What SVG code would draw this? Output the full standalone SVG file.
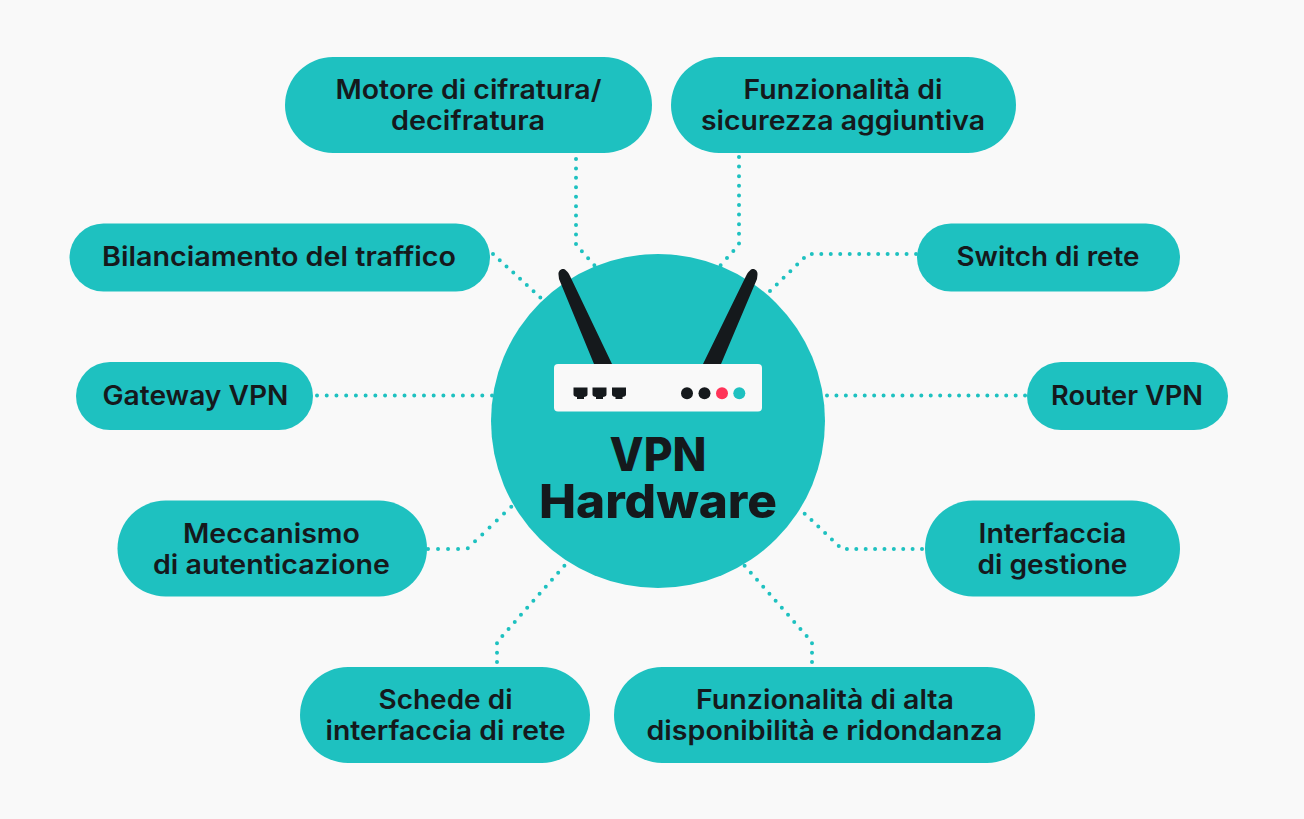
<svg xmlns="http://www.w3.org/2000/svg" width="1304" height="819" viewBox="0 0 1304 819">
<style>
.pill{fill:#1ec1c0}
.t{font-family:"Inter","Liberation Sans",sans-serif;font-weight:600;font-size:26.5px;fill:#15191c;text-anchor:middle}
.h{font-family:"Inter","Liberation Sans",sans-serif;font-weight:800;font-size:47px;fill:#15191c;text-anchor:middle}
.c{fill:none;stroke:#1ec1c0;stroke-width:4;stroke-linecap:round;stroke-linejoin:round;stroke-dasharray:0 1}
.k{fill:#15191c}
</style>
<rect width="1304" height="819" fill="#f9f9f9"/>
<g id="connectors">
<path class="c" pathLength="12.100" d="M576 159V244.500L595 266"/>
<path class="c" pathLength="12.100" d="M739 157V244.500L720 266"/>
<path class="c" pathLength="7.100" d="M493 254L541 298"/>
<path class="c" pathLength="17.100" d="M770 291L808 254H917"/>
<path class="c" pathLength="18.100" d="M317 395.500H493"/>
<path class="c" pathLength="21.100" d="M827 395.500H1026"/>
<path class="c" pathLength="10.100" d="M428 549H467L512 506"/>
<path class="c" pathLength="13.100" d="M497 662V642L565 565"/>
<path class="c" pathLength="13.100" d="M812 662V642L744 565"/>
<path class="c" pathLength="14.100" d="M922 549H842L804 513"/>
</g>
<g id="hub">
<circle cx="658" cy="421" r="167" class="pill"/>
<path class="k" d="M558.500 274.500C558 270 563 267 566 270.500C568 272 569 274 570 276L612 364H594L559 279Z"/>
<path class="k" d="M757.500 274.500C758 270 753 267 750 270.500C748 272 747 274 746 276L703 364H721L757 279Z"/>
<rect x="554" y="364" width="208" height="47.500" rx="4" fill="#f9f9f9"/>
<path class="k" d="M573.500 387.500H587.500V394.500Q587.500 396 586 396.500L584 397V399H577V397L575 396.500Q573.500 396 573.500 394.500Z"/>
<path class="k" d="M592.500 387.500H606.500V394.500Q606.500 396 605 396.500L603 397V399H596V397L594 396.500Q592.500 396 592.500 394.500Z"/>
<path class="k" d="M612 387.500H626V394.500Q626 396 624.500 396.500L622.500 397V399H615.500V397L613.500 396.500Q612 396 612 394.500Z"/>
<circle cx="687" cy="393.300" r="6" class="k"/>
<circle cx="704.500" cy="393.300" r="6" class="k"/>
<circle cx="722" cy="393.300" r="6" fill="#ff3358"/>
<circle cx="739.300" cy="393.300" r="6" fill="#1ec1c0"/>
<text class="h"><tspan x="658" y="471" textLength="97" lengthAdjust="spacingAndGlyphs">VPN</tspan><tspan x="658" y="518" textLength="238" lengthAdjust="spacingAndGlyphs">Hardware</tspan></text>
</g>
<g id="n1"><rect class="pill" x="285" y="57" width="367" height="96" rx="48"/><text class="t" x="468.500" y="99" textLength="266" lengthAdjust="spacingAndGlyphs">Motore di cifratura/</text><text class="t" x="468" y="130" textLength="154" lengthAdjust="spacingAndGlyphs">decifratura</text></g>
<g id="n2"><rect class="pill" x="671" y="57" width="345" height="96" rx="48"/><text class="t" x="843" y="99" textLength="199" lengthAdjust="spacingAndGlyphs">Funzionalità di</text><text class="t" x="843" y="130" textLength="284" lengthAdjust="spacingAndGlyphs">sicurezza aggiuntiva</text></g>
<g id="n3"><rect class="pill" x="69.500" y="223.500" width="420.500" height="68" rx="34"/><text class="t" x="279" y="266" textLength="354" lengthAdjust="spacingAndGlyphs">Bilanciamento del traffico</text></g>
<g id="n4"><rect class="pill" x="917" y="223.500" width="263" height="68" rx="34"/><text class="t" x="1048" y="266" textLength="183" lengthAdjust="spacingAndGlyphs">Switch di rete</text></g>
<g id="n5"><rect class="pill" x="76" y="362" width="237" height="68" rx="34"/><text class="t" x="195.500" y="405" textLength="186" lengthAdjust="spacingAndGlyphs">Gateway VPN</text></g>
<g id="n6"><rect class="pill" x="1027" y="362" width="201" height="68" rx="34"/><text class="t" x="1127" y="405" textLength="152" lengthAdjust="spacingAndGlyphs">Router VPN</text></g>
<g id="n7"><rect class="pill" x="117.500" y="500.500" width="309.500" height="96" rx="48"/><text class="t" x="271.500" y="543" textLength="177" lengthAdjust="spacingAndGlyphs">Meccanismo</text><text class="t" x="271.500" y="574" textLength="237" lengthAdjust="spacingAndGlyphs">di autenticazione</text></g>
<g id="n8"><rect class="pill" x="925" y="500.500" width="255" height="96" rx="48"/><text class="t" x="1052.500" y="543" textLength="148" lengthAdjust="spacingAndGlyphs">Interfaccia</text><text class="t" x="1052.500" y="574" textLength="150" lengthAdjust="spacingAndGlyphs">di gestione</text></g>
<g id="n9"><rect class="pill" x="300" y="667" width="290" height="96" rx="48"/><text class="t" x="445.500" y="709" textLength="134" lengthAdjust="spacingAndGlyphs">Schede di</text><text class="t" x="445.500" y="740" textLength="240" lengthAdjust="spacingAndGlyphs">interfaccia di rete</text></g>
<g id="n10"><rect class="pill" x="614" y="667" width="421" height="96" rx="48"/><text class="t" x="825" y="708.500" textLength="258" lengthAdjust="spacingAndGlyphs">Funzionalità di alta</text><text class="t" x="824.500" y="739.500" textLength="356" lengthAdjust="spacingAndGlyphs">disponibilità e ridondanza</text></g>
</svg>
